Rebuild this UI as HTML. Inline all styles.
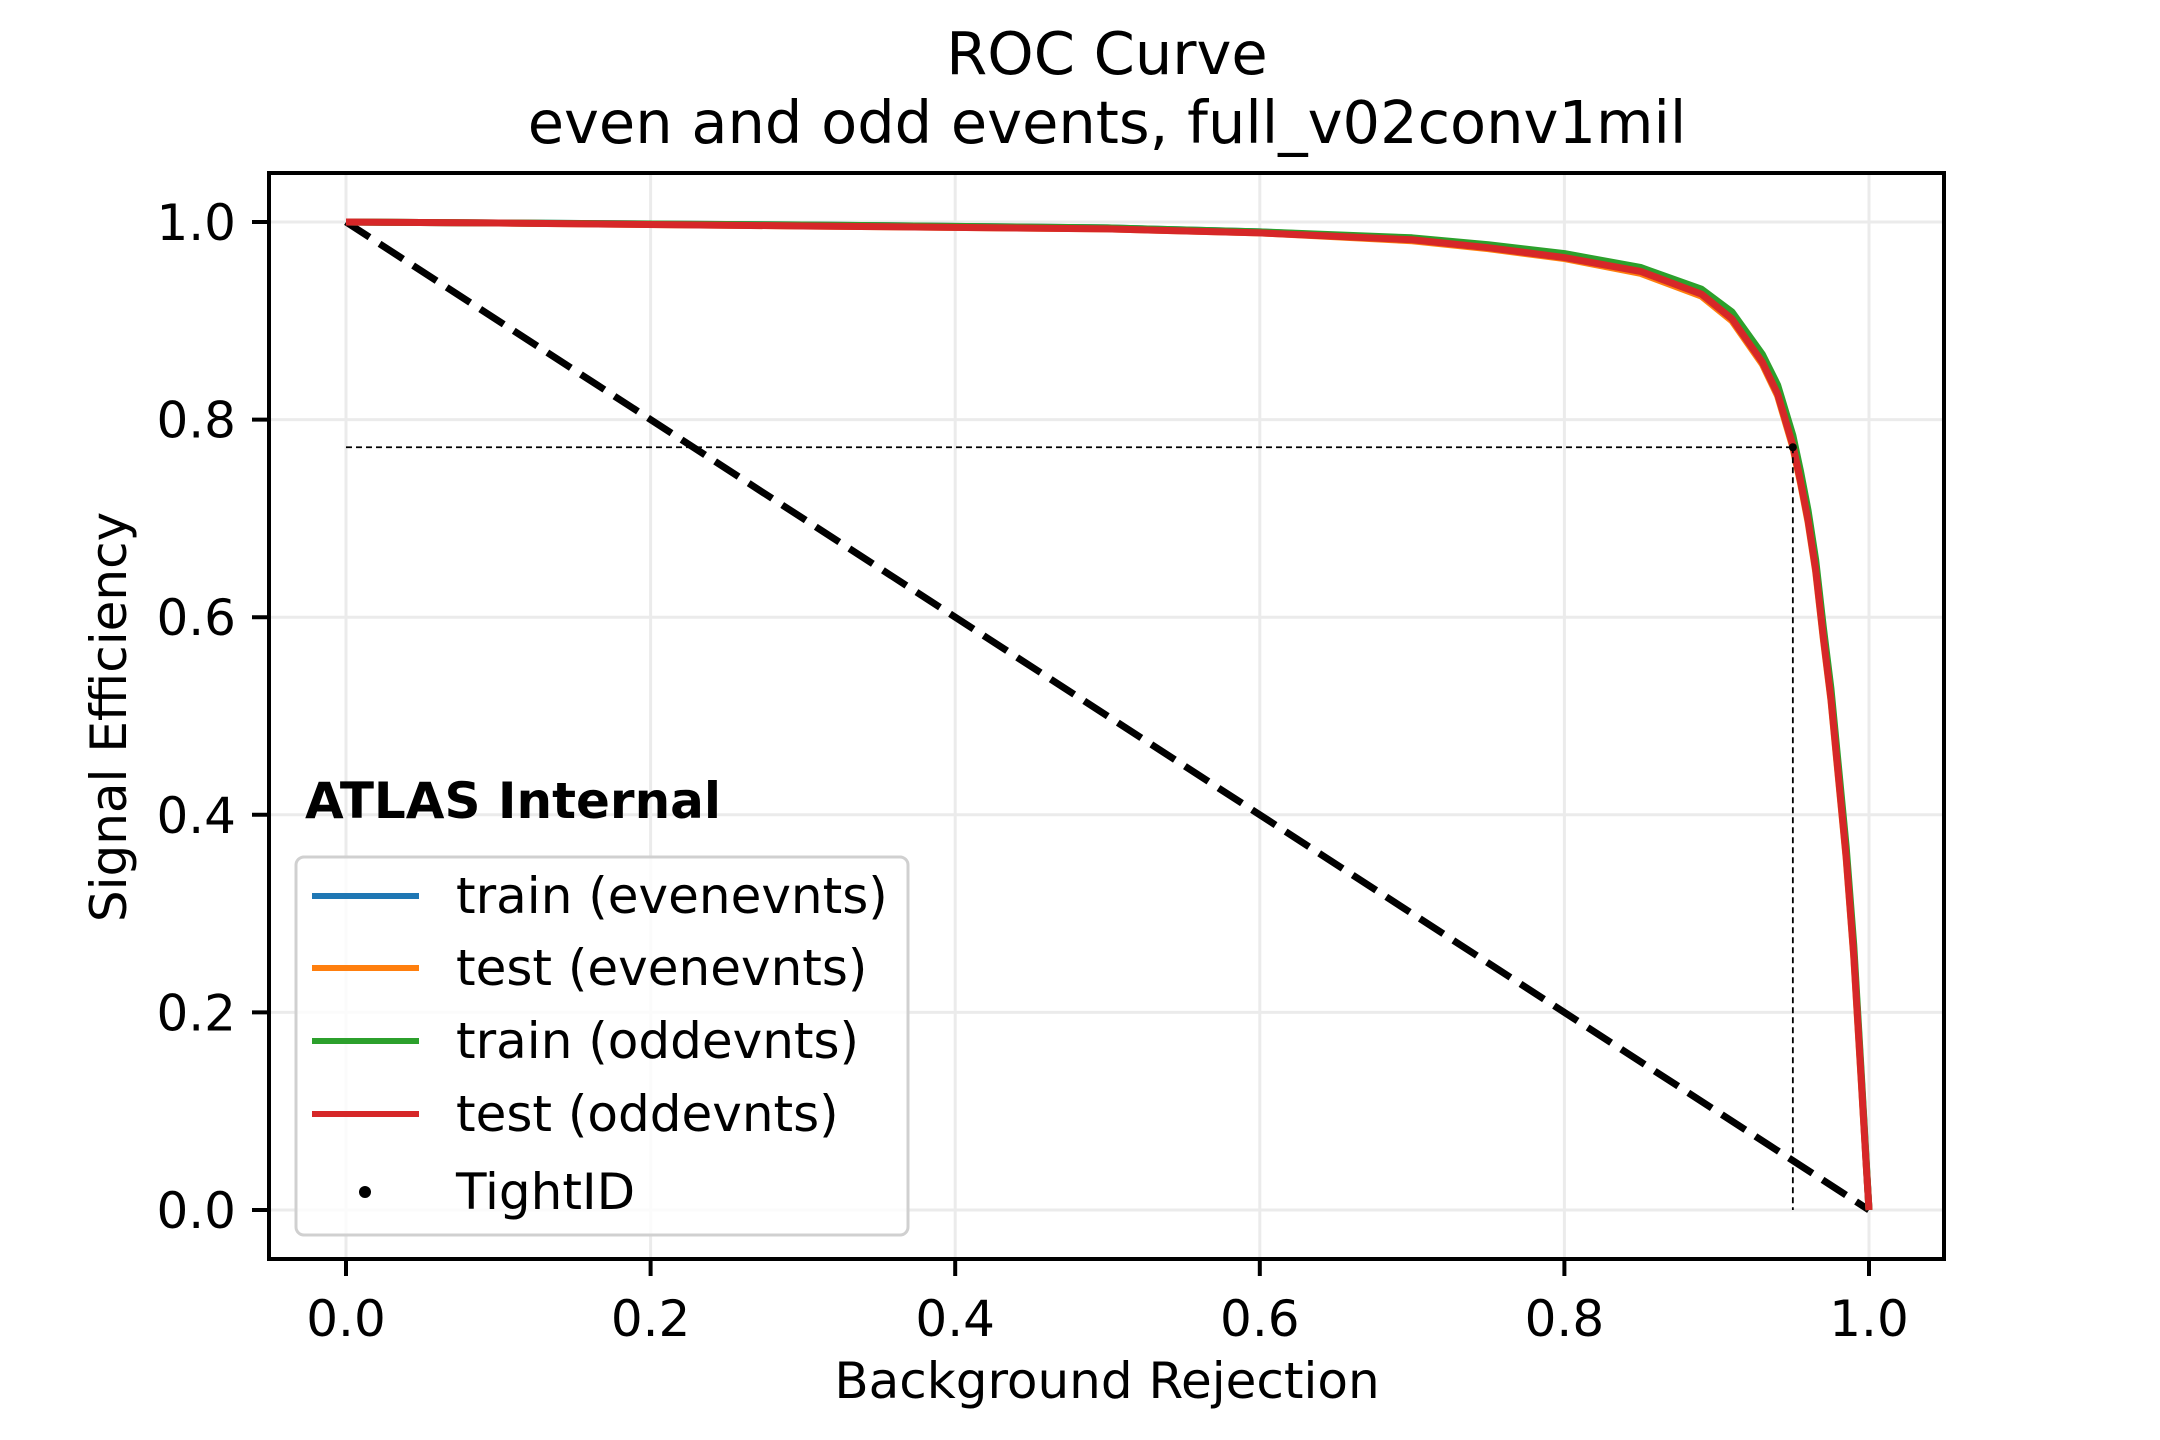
<!DOCTYPE html>
<html><head><meta charset="utf-8"><style>
html,body{margin:0;padding:0;background:#fff}
svg{display:block}
text{font-family:"DejaVu Sans","Liberation Sans",sans-serif;fill:#000}
</style></head><body>
<svg id="chart" width="2160" height="1440" viewBox="0 0 2160 1440" xmlns="http://www.w3.org/2000/svg">
<text x="1107" y="74" font-size="59" text-anchor="middle">ROC Curve</text>
<text x="1107" y="143" font-size="59" text-anchor="middle">even and odd events, full_v02conv1mil</text>
<g id="grid"></g>
<g id="marks"></g>
<rect x="269" y="173" width="1675" height="1086" fill="none" stroke="#000" stroke-width="4"/>
<g id="ticks"></g>
<text x="1107" y="1398" font-size="50" text-anchor="middle">Background Rejection</text>
<text x="0" y="0" font-size="50" text-anchor="middle" transform="translate(126,717) rotate(-90)">Signal Efficiency</text>
<text x="305" y="818" font-size="50" font-weight="bold">ATLAS Internal</text>
<g id="legend">
<rect x="296" y="857" width="612" height="378" rx="8" fill="#fff" fill-opacity="0.8" stroke="#d0d0d0" stroke-width="3"/>
</g>
</svg>
<script>
const xTicks=[0,0.2,0.4,0.6,0.8,1.0];
const yTicks=[0,0.2,0.4,0.6,0.8,1.0];
const tickLabels=["0.0","0.2","0.4","0.6","0.8","1.0"];
const rocX=[0,0.1,0.3,0.5,0.6,0.7,0.75,0.8,0.85,0.89,0.91,0.93,0.94,0.95,0.955,0.96,0.965,0.97,0.975,0.98,0.985,0.99,0.995,0.998,1.0];
const trainEven=[1,0.999,0.997,0.994,0.99,0.983,0.976,0.966,0.952,0.93,0.906,0.862,0.83,0.778,0.742,0.702,0.652,0.585,0.522,0.442,0.362,0.262,0.132,0.052,0];
const testEven=[1,0.999,0.996,0.993,0.989,0.981,0.973,0.963,0.948,0.925,0.9,0.856,0.824,0.772,0.736,0.696,0.646,0.578,0.516,0.436,0.356,0.256,0.128,0.05,0];
const trainOdd=[1,0.999,0.997,0.994,0.99,0.984,0.977,0.968,0.954,0.932,0.909,0.866,0.835,0.784,0.748,0.708,0.658,0.59,0.528,0.448,0.368,0.268,0.136,0.054,0];
const testOdd=[1,0.999,0.996,0.993,0.989,0.982,0.974,0.964,0.95,0.927,0.902,0.858,0.826,0.774,0.738,0.698,0.648,0.58,0.518,0.438,0.358,0.258,0.13,0.05,0];
const seriesNames=["train (evenevnts)","test (evenevnts)","train (oddevnts)","test (oddevnts)"];
const seriesColors=["#1f77b4","#ff7f0e","#2ca02c","#d62728"];
const tightX=[0.95];
const tightY=[0.772];
const NS="http://www.w3.org/2000/svg";
const X=v=>346+1523*v;
const Y=v=>1210-988*v;
function mk(tag,attrs,parent){const e=document.createElementNS(NS,tag);for(const k in attrs)e.setAttribute(k,attrs[k]);parent.appendChild(e);return e;}
const grid=document.getElementById('grid'),marks=document.getElementById('marks'),ticks=document.getElementById('ticks'),legend=document.getElementById('legend');
xTicks.forEach((t,i)=>{
 const g=mk('line',{x1:X(t),x2:X(t),y1:173,y2:1259,stroke:'#ebebeb','stroke-width':3},grid);
 
 
 const tk=mk('line',{x1:X(t),x2:X(t),y1:1259,y2:1276,stroke:'#000','stroke-width':4},ticks);
 
 
 const tx=mk('text',{x:X(t),y:1336,'font-size':50,'text-anchor':'middle'},ticks);tx.textContent=tickLabels[i];
 
 
});
yTicks.forEach((t,i)=>{
 const g=mk('line',{x1:269,x2:1944,y1:Y(t),y2:Y(t),stroke:'#ebebeb','stroke-width':3},grid);
 
 
 const tk=mk('line',{x1:252,x2:269,y1:Y(t),y2:Y(t),stroke:'#000','stroke-width':4},ticks);
 
 
 const tx=mk('text',{x:236,y:Y(t)+18,'font-size':50,'text-anchor':'end'},ticks);tx.textContent=tickLabels[i];
 
 
});
const diag=mk('line',{x1:X(0),y1:Y(1),x2:X(1),y2:Y(0),stroke:'#000','stroke-width':7,'stroke-dasharray':'28,12'},marks);


[trainEven,testEven,trainOdd,testOdd].forEach((s,i)=>{
 const p=mk('polyline',{points:rocX.map((x,j)=>X(x)+','+Y(s[j])).join(' '),fill:'none',stroke:seriesColors[i],'stroke-width':7,'stroke-linejoin':'round'},marks);
 
 
});
tightX.forEach((tx,i)=>{
 const h=mk('line',{x1:X(0),x2:X(tx),y1:Y(tightY[i]),y2:Y(tightY[i]),stroke:'#000','stroke-width':1.8,'stroke-dasharray':'6,4'},marks);
 
 
 const v=mk('line',{x1:X(tx),x2:X(tx),y1:Y(tightY[i]),y2:Y(0),stroke:'#000','stroke-width':1.8,'stroke-dasharray':'6,4'},marks);
 
 
 const c=mk('circle',{cx:X(tx),cy:Y(tightY[i]),r:4,fill:'#000'},marks);
 
 
});
const ly=[896,968,1041,1114];
seriesNames.forEach((n,i)=>{
 const l=mk('line',{x1:312,x2:419,y1:ly[i],y2:ly[i],stroke:seriesColors[i],'stroke-width':6},legend);
 
 
 const t=mk('text',{x:456,y:ly[i]+17,'font-size':50},legend);t.textContent=n;
 
 
});
const d=mk('circle',{cx:365,cy:1192,r:6,fill:'#000'},legend);


const tt=mk('text',{x:456,y:1209,'font-size':50},legend);tt.textContent='TightID';


</script>
</body></html>
